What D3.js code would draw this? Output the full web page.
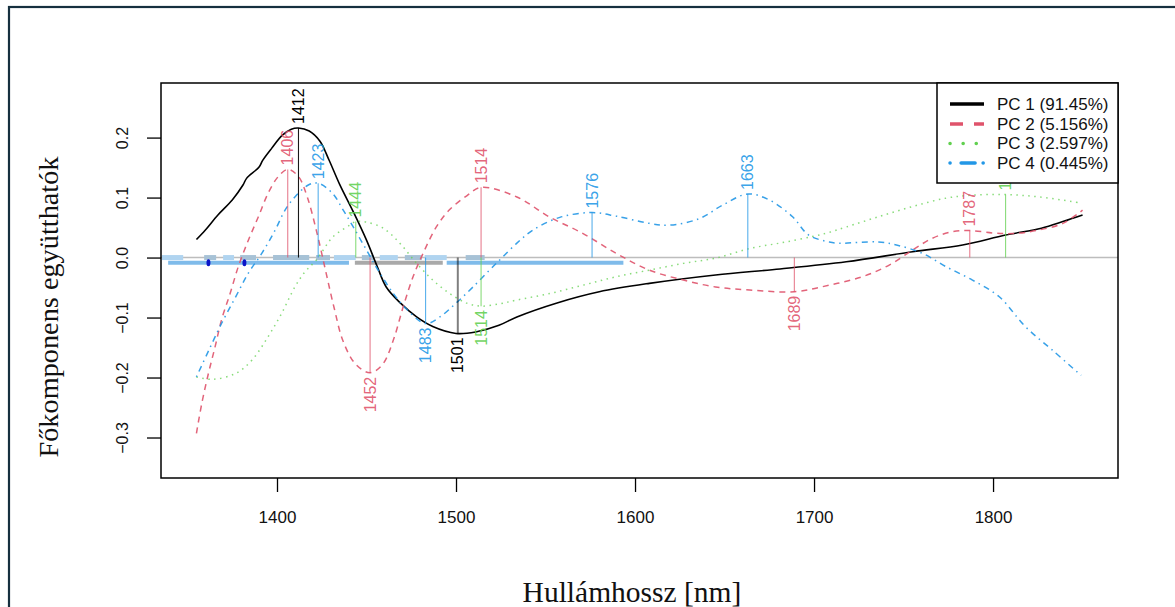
<!DOCTYPE html>
<html><head><meta charset="utf-8">
<script src="https://cdn.jsdelivr.net/npm/d3@7"></script>
<style>body{margin:0;background:#fff}svg{display:block}</style>
</head><body>
<svg id="c" width="1175" height="607"></svg>
<script>
// ---- data ----
const seriesNames = ["PC 1 (91.45%)","PC 2 (5.156%)","PC 3 (2.597%)","PC 4 (0.445%)"];
const pc1 = [[1355,0.030],[1360,0.046],[1367,0.071],[1375,0.096],[1381,0.121],[1383,0.132],[1390,0.151],[1392,0.162],[1397,0.182],[1403,0.204],[1408,0.214],[1412,0.216],[1418,0.211],[1424,0.194],[1429,0.163],[1435,0.122],[1443,0.074],[1450,0.029],[1456,-0.015],[1461,-0.049],[1469,-0.076],[1478,-0.099],[1487,-0.115],[1500,-0.1265],[1511,-0.124],[1524,-0.113],[1534,-0.099],[1556,-0.076],[1580,-0.057],[1608,-0.043],[1645,-0.029],[1681,-0.019],[1718,-0.007],[1755,0.0097],[1783,0.021],[1807,0.0375],[1827,0.049],[1839,0.060],[1850,0.071]];
const pc2 = [[1355,-0.293],[1358,-0.243],[1361.7,-0.193],[1365.4,-0.149],[1369,-0.104],[1373.8,-0.060],[1378.4,-0.015],[1384,0.029],[1389.6,0.068],[1395,0.107],[1400.7,0.135],[1406,0.147],[1412,0.135],[1417,0.100],[1422,0.045],[1427,-0.02],[1432,-0.085],[1437,-0.140],[1444,-0.178],[1452,-0.192],[1459,-0.178],[1465,-0.1375],[1470.5,-0.082],[1476,-0.032],[1481.6,0.007],[1489,0.051],[1496.5,0.080],[1506,0.103],[1514,0.117],[1534,0.101],[1552,0.068],[1571,0.040],[1589.5,0.007],[1608,-0.021],[1627,-0.0375],[1645,-0.049],[1664,-0.054],[1689,-0.057],[1708.5,-0.046],[1727,-0.032],[1742,-0.0125],[1755,0.0125],[1766,0.032],[1777,0.043],[1787,0.045],[1800,0.041],[1811,0.040],[1824,0.045],[1839,0.057],[1850,0.079]];
const pc3 = [[1355,-0.199],[1364,-0.203],[1377,-0.193],[1386,-0.171],[1395,-0.132],[1402.6,-0.093],[1410,-0.049],[1415.6,-0.024],[1422,-0.004],[1431.4,0.035],[1440.7,0.054],[1444,0.060],[1450,0.059],[1459.3,0.049],[1468.6,0.024],[1478,-0.0097],[1487,-0.0375],[1496.5,-0.060],[1506,-0.076],[1514,-0.081],[1524.4,-0.077],[1533.7,-0.071],[1552.3,-0.060],[1571,-0.046],[1589.5,-0.032],[1608,-0.021],[1627,-0.0097],[1645,-0.001],[1664,0.015],[1682.5,0.025],[1699,0.035],[1708.5,0.042],[1718,0.051],[1736,0.068],[1755,0.085],[1773.6,0.099],[1788.5,0.104],[1807,0.105],[1826,0.101],[1849,0.091]];
const pc4 = [[1355,-0.199],[1362,-0.154],[1369,-0.110],[1377,-0.065],[1384,-0.026],[1391.5,0.007],[1399,0.046],[1404.5,0.079],[1410,0.101],[1417.5,0.121],[1423,0.124],[1431,0.107],[1437,0.079],[1442.6,0.051],[1450,0.0125],[1457.5,-0.026],[1465,-0.060],[1472,-0.085],[1483,-0.110],[1491,-0.099],[1500,-0.076],[1509.5,-0.049],[1520.7,-0.015],[1524.4,-0.004],[1534,0.024],[1543,0.046],[1558,0.067],[1576,0.075],[1589.5,0.069],[1608,0.057],[1619,0.054],[1636,0.065],[1649,0.0875],[1663,0.106],[1675,0.096],[1688,0.068],[1697,0.0375],[1708.5,0.026],[1714,0.024],[1736,0.026],[1746,0.021],[1760.6,0.007],[1773.6,-0.015],[1788.5,-0.0375],[1803.3,-0.065],[1818,-0.115],[1833,-0.154],[1849,-0.196]];
const peakSeries = [0,0,1,1,1,1,1,2,2,2,3,3,3,3];
const peakNm     = [1412,1501,1406,1452,1514,1689,1787,1444,1514,1807,1423,1483,1576,1663];
const peakVal    = [0.216,-0.1265,0.147,-0.192,0.117,-0.057,0.045,0.060,-0.081,0.105,0.124,-0.110,0.075,0.106];
const xTicks = [1400,1500,1600,1700,1800];
const yTicks = [-0.3,-0.2,-0.1,0.0,0.1,0.2];
// band segments on the zero line (nm ranges) and their kind (0 light blue, 1 greyish blue)
const bandStart = [1335.7,1359.3,1369.9,1379.4,1397.8,1421.8,1431.8,1447.4,1457.4,1471.4,1482.5,1505.4];
const bandEnd   = [1347.6,1366.0,1376.0,1388.3,1418.0,1429.6,1444.0,1454.1,1467.5,1480.9,1494.8,1516.0];
const bandKind  = [0,1,0,1,1,1,0,1,0,1,0,1];
// lower bar segments
const barStart = [1339.2,1443.5,1494.8];
const barEnd   = [1440.2,1492.6,1593.5];
const barKind  = [0,1,0];
const barLevel = -0.0087;
const dotNm = [1361.7,1381.8];

// ---- drawing ----
const svg = d3.select("#c");
const L=161,R=1118,T=83,B=478;
const x = d3.scaleLinear().domain([1335.2,1869.8]).range([L,R]);
const y = d3.scaleLinear().domain([-0.3675,0.291]).range([B,T]);
const colors = ["#000000","#DF536B","#61D04F","#2297E6"];
const dashes = [null,"6,5","1.5,4.5","1.5,4.5,6,4.5"];
const sans = "'Liberation Sans', Arial, sans-serif";
const serif = "'Liberation Serif', 'Times New Roman', serif";

// outer frame
svg.append("rect").attr("x",9).attr("y",7).attr("width",1300).attr("height",700)
  .attr("fill","none").attr("stroke","#16303f").attr("stroke-width",2.2);

const clip = svg.append("defs").append("clipPath").attr("id","pc")
  .append("rect").attr("x",L).attr("y",T).attr("width",R-L).attr("height",B-T);
const g = svg.append("g").attr("clip-path","url(#pc)");

// zero line
g.append("line").attr("x1",L).attr("x2",R).attr("y1",y(0)).attr("y2",y(0))
  .attr("stroke","#bdbdbd").attr("stroke-width",1.5);

// band on zero line
g.selectAll(".band").data(bandStart).enter().append("line")
  .attr("x1",(d)=>x(d)).attr("x2",(d,i)=>x(bandEnd[i]))
  .attr("y1",y(0)).attr("y2",y(0))
  .attr("stroke",(d,i)=>bandKind[i]?"#a7c2d6":"#b0d4f0").attr("stroke-width",5);

// lower bar
g.selectAll(".bar").data(barStart).enter().append("line")
  .attr("x1",(d)=>x(d)).attr("x2",(d,i)=>x(barEnd[i]))
  .attr("y1",y(barLevel)).attr("y2",y(barLevel))
  .attr("stroke",(d,i)=>barKind[i]?"#a9a9a9":"#7fbbea").attr("stroke-width",4);
g.selectAll(".dot").data(dotNm).enter().append("ellipse")
  .attr("cx",d=>x(d)).attr("cy",y(barLevel)).attr("rx",2).attr("ry",3.5).attr("fill","#0a14c8");

// curves
const line = d3.line().x(d=>x(d[0])).y(d=>y(d[1])).curve(d3.curveCatmullRom.alpha(0.5));
[pc1,pc2,pc3,pc4].forEach((s,i)=>{
  g.append("path").attr("d",line(s)).attr("fill","none")
   .attr("stroke",colors[i]).attr("stroke-width",i==0?1.6:1.5)
   .attr("stroke-opacity",i==0?1:(i==2?0.75:0.9))
   .attr("stroke-dasharray",dashes[i]);
});

// drop lines
g.selectAll(".drop").data(peakNm).enter().append("line")
  .attr("x1",d=>x(d)).attr("x2",d=>x(d))
  .attr("y1",y(0)).attr("y2",(d,i)=>y(peakVal[i]))
  .attr("stroke",(d,i)=>colors[peakSeries[i]])
  .attr("stroke-opacity",(d,i)=>peakSeries[i]==0?(peakVal[i]<0?0.5:0.9):0.75)
  .attr("stroke-width",(d,i)=>peakSeries[i]==0&&peakVal[i]<0?2:1.1);

// peak labels
g.selectAll(".plab").data(peakNm).enter().append("text")
  .attr("transform",(d,i)=>`translate(${x(d)},${y(peakVal[i]) + (peakVal[i]>0?-4:4)}) rotate(-90)`)
  .attr("text-anchor",(d,i)=>peakVal[i]>0?"start":"end")
  .attr("dy","0.35em")
  .attr("font-family",sans).attr("font-size",16)
  .attr("fill",(d,i)=>colors[peakSeries[i]])
  .attr("fill-opacity",(d,i)=>peakSeries[i]==0?1:0.9)
  .text(d=>d);

// box
svg.append("rect").attr("x",L).attr("y",T).attr("width",R-L).attr("height",B-T)
  .attr("fill","none").attr("stroke","#000").attr("stroke-width",1.5);

// axes
const xa = svg.append("g").attr("transform",`translate(0,${B})`)
  .call(d3.axisBottom(x).tickValues(xTicks).tickSize(14).tickPadding(20).tickFormat(d3.format("d")));
xa.select(".domain").remove();
xa.selectAll("line").attr("stroke","#000").attr("stroke-width",1.3);
xa.selectAll("text").attr("font-family",sans).attr("font-size",17).attr("fill","#111")
  .attr("y",null).attr("dy",null).attr("transform","translate(0,39)").attr("dominant-baseline","central");

const ya = svg.append("g").attr("transform",`translate(${L},0)`)
  .call(d3.axisLeft(y).tickValues(yTicks).tickSize(14).tickFormat(d3.format(".1f")));
ya.select(".domain").remove();
ya.selectAll("line").attr("stroke","#000").attr("stroke-width",1.3);
ya.selectAll("text").attr("font-family",sans).attr("font-size",16).attr("fill","#111")
  .attr("x",null).attr("dy",null).attr("text-anchor","middle").attr("dominant-baseline","central")
  .attr("transform","translate(-39,0) rotate(-90)");

// titles
svg.append("text").attr("x",632).attr("y",602).attr("text-anchor","middle")
  .attr("font-family",serif).attr("font-size",29.5).attr("fill","#111").text("Hullámhossz [nm]");
svg.append("text").attr("transform","translate(58,307) rotate(-90)").attr("text-anchor","middle")
  .attr("font-family",serif).attr("font-size",28.3).attr("fill","#111").text("Főkomponens együtthatók");

// legend
const lg = svg.append("g");
lg.append("rect").attr("x",937).attr("y",T).attr("width",R-937).attr("height",100)
  .attr("fill","#fff").attr("stroke","#000").attr("stroke-width",1.5);
const legDash = [null,"13,11","0.1,13","0.1,11,14,8"];
const legY = [104,124,143.5,163];
seriesNames.forEach((n,i)=>{
  lg.append("line").attr("x1",950).attr("x2",984).attr("y1",legY[i]).attr("y2",legY[i])
    .attr("stroke",colors[i]).attr("stroke-width",3.5)
    .attr("stroke-linecap",i>=2?"round":"butt")
    .attr("stroke-dasharray",legDash[i]);
  lg.append("text").attr("x",997).attr("y",legY[i]).attr("dominant-baseline","central")
    .attr("font-family",sans).attr("font-size",17).attr("fill","#111").text(n);
});
</script>
</body></html>
